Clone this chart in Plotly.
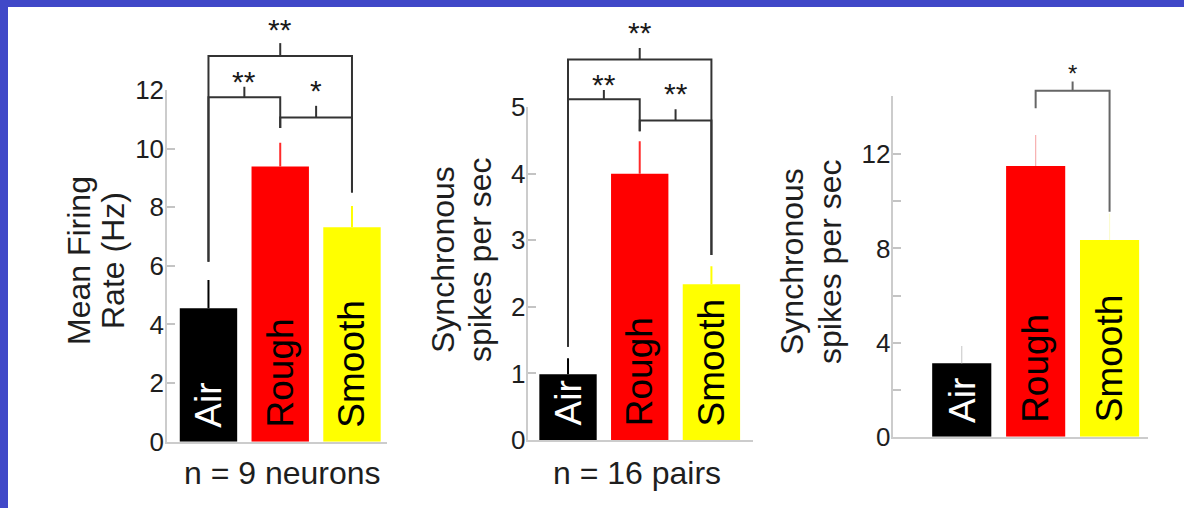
import plotly.graph_objects as go

# ---- data -------------------------------------------------------------
categories = ["Air", "Rough", "Smooth"]
bar_colors = ["#000000", "#ff0000", "#ffff00"]
label_colors = ["#ffffff", "#000000", "#000000"]

# Mean firing rate (Hz), n = 9 neurons
rate_mean = [4.55, 9.39, 7.32]
rate_sem = [0.97, 0.81, 0.72]

# Synchronous spikes per sec, n = 16 pairs
sync_mean = [0.99, 4.00, 2.34]
sync_sem = [0.24, 0.49, 0.27]

# Synchronous spikes per sec (third comparison)
sync2_mean = [3.12, 11.50, 8.36]
sync2_sem = [0.73, 1.32, 1.13]

rate_ticks = [0, 2, 4, 6, 8, 10, 12]
sync_ticks = [0, 1, 2, 3, 4, 5]
sync2_ticks = [0, 2, 4, 6, 8, 10, 12]
sync2_ticktext = ["0", "", "4", "", "8", "", "12"]

# significance brackets: (left bar, right bar, label)
rate_sig = [(0, 2, "**"), (0, 1, "**"), (1, 2, "*")]
sync_sig = [(0, 2, "**"), (0, 1, "**"), (1, 2, "**")]
sync2_sig = [(1, 2, "*")]

FONT = "Liberation Sans, Arial, Helvetica, sans-serif"
W, H = 1184, 508

# ---- panel geometry ---------------------------------------------------
panels = [
    dict(mean=rate_mean, sem=rate_sem, ticks=rate_ticks, ticktext=None,
         sig=rate_sig, yrange=[0, 12], xrange=[-0.578, 2.488],
         xdom=[167 / W, 387 / W], ydom=[(H - 441.7) / H, (H - 90) / H],
         err_colors=["#000000", "#ff2a2a", "#ffff00"], err_w=2,
         bracket_color="#333333",
         # bracket: horizontal level, left leg bottom, right leg bottom, tick top, label y
         bracket_geo=[(13.16, 6.14, 8.50, 13.60, 14.05),
                      (11.75, 6.14, 10.70, 12.11, 12.30),
                      (11.06, 10.70, 8.50, 11.46, 11.98)],
         star_size=[30, 30, 30],
         title=["Mean Firing", "Rate (Hz)"], title_x=[79, 113], title_y=261,
         footer="n = 9 neurons", footer_x=282),
    dict(mean=sync_mean, sem=sync_sem, ticks=sync_ticks, ticktext=None,
         sig=sync_sig, yrange=[0, 5], xrange=[-0.554, 2.58],
         xdom=[528.3 / W, 753 / W], ydom=[(H - 440) / H, (H - 107.3) / H],
         err_colors=["#000000", "#ff2a2a", "#ffff00"], err_w=2,
         bracket_color="#333333",
         bracket_geo=[(5.72, 1.40, 2.78, 5.89, 6.12),
                      (5.12, 1.40, 4.64, 5.26, 5.35),
                      (4.80, 4.64, 2.78, 4.97, 5.21)],
         star_size=[30, 30, 30],
         title=["Synchronous", "spikes per sec"], title_x=[443, 480], title_y=260,
         footer="n = 16 pairs", footer_x=637),
    dict(mean=sync2_mean, sem=sync2_sem, ticks=sync2_ticks, ticktext=sync2_ticktext,
         sig=sync2_sig, yrange=[0, 14.5], xrange=[-0.926, 2.52],
         xdom=[893.3 / W, 1148 / W], ydom=[(H - 436.7) / H, (H - 95.5) / H],
         err_colors=["#cfcfcf", "#f7b0b0", "#fbfbd0"], err_w=1.2,
         bracket_color="#666666",
         bracket_geo=[(14.70, 13.96, 9.56, 15.09, 15.45)],
         star_size=[24],
         title=["Synchronous", "spikes per sec"], title_x=[792, 830], title_y=262,
         footer=None, footer_x=None),
]

fig = go.Figure()
annotations = []
layout_axes = {}
n_panels = len(panels)

for p_i, p in enumerate(panels):
    k = "" if p_i == 0 else str(p_i + 1)
    ko = str(p_i + 1 + n_panels)          # overlay axes for the brackets
    xa, ya = "x" + k, "y" + k
    xo, yo = "x" + ko, "y" + ko
    xpos = list(range(len(categories)))

    # one trace per bar so every error bar takes its bar's colour
    for i, cat in enumerate(categories):
        fig.add_trace(go.Bar(
            x=[xpos[i]], y=[p["mean"][i]], width=0.8, name=cat,
            marker=dict(color=bar_colors[i], line=dict(width=0)),
            error_y=dict(type="data", array=[p["sem"][i]], arrayminus=[0],
                         symmetric=False, color=p["err_colors"][i],
                         thickness=p["err_w"], width=0),
            xaxis=xa, yaxis=ya, showlegend=False, hoverinfo="skip",
        ))
        annotations.append(dict(
            x=xpos[i], y=0, xref=xa, yref=ya, text=cat, textangle=-90,
            showarrow=False, xanchor="center", yanchor="bottom", yshift=12,
            font=dict(family=FONT, size=37, color=label_colors[i]),
        ))

    # overlay axes: same units per pixel, taller domain so brackets fit above
    dom0, dom1 = p["ydom"]
    px_per_unit = (dom1 - dom0) * H / p["yrange"][1]
    full_top = (1 - dom0) * H / px_per_unit

    bx, by = [], []
    for (a, b, lab), (hy, lbot, rbot, ttop, ly), ssz in zip(p["sig"], p["bracket_geo"], p["star_size"]):
        bx += [a, a, b, b, None, (a + b) / 2, (a + b) / 2, None]
        by += [lbot, hy, hy, rbot, None, hy, ttop, None]
        annotations.append(dict(
            x=(a + b) / 2, y=ly, xref=xo, yref=yo, text=lab, showarrow=False,
            xanchor="center", yanchor="middle",
            font=dict(family=FONT, size=ssz, color="#1a1a1a"),
        ))
    fig.add_trace(go.Scatter(
        x=bx, y=by, mode="lines",
        line=dict(color=p["bracket_color"], width=2),
        xaxis=xo, yaxis=yo, showlegend=False, hoverinfo="skip",
    ))

    layout_axes["xaxis" + k] = dict(
        domain=p["xdom"], range=p["xrange"], anchor=ya, automargin=False,
        showgrid=False, zeroline=False, showticklabels=False, ticks="",
        showline=True, linecolor="#cccccc", linewidth=1.5,
    )
    ytick = dict(tickvals=p["ticks"])
    if p["ticktext"] is not None:
        ytick["ticktext"] = p["ticktext"]
    layout_axes["yaxis" + k] = dict(
        domain=p["ydom"], range=p["yrange"], anchor=xa, automargin=False,
        showgrid=False, zeroline=False,
        showline=True, linecolor="#cccccc", linewidth=1.5,
        ticks="inside", ticklen=8, tickwidth=1.5, tickcolor="#c4c4c4",
        tickfont=dict(family=FONT, size=26, color="#1e1e1e"),
        ticklabelstandoff=-4,
        **ytick,
    )
    layout_axes["xaxis" + ko] = dict(
        domain=p["xdom"], range=p["xrange"], anchor=yo, visible=False,
        automargin=False, showgrid=False, zeroline=False,
    )
    layout_axes["yaxis" + ko] = dict(
        domain=[dom0, 1.0], range=[0, full_top], anchor=xo, visible=False,
        automargin=False, showgrid=False, zeroline=False,
    )

    # axis titles (two stacked rotated lines)
    for line_txt, tx in zip(p["title"], p["title_x"]):
        annotations.append(dict(
            x=tx / W, y=(H - p["title_y"]) / H, xref="paper", yref="paper",
            text=line_txt, textangle=-90, showarrow=False,
            xanchor="center", yanchor="middle",
            font=dict(family=FONT, size=32, color="#1e1e1e"),
        ))
    if p["footer"]:
        annotations.append(dict(
            x=p["footer_x"] / W, y=(H - 473) / H, xref="paper", yref="paper",
            text=p["footer"], showarrow=False, xanchor="center", yanchor="middle",
            font=dict(family=FONT, size=32, color="#1e1e1e"),
        ))

# blue frame along the top and left edges
shapes = [
    dict(type="rect", xref="paper", yref="paper", x0=0, x1=1,
         y0=(H - 7) / H, y1=1, fillcolor="#4048c8", line=dict(width=0), layer="above"),
    dict(type="rect", xref="paper", yref="paper", x0=0, x1=8 / W,
         y0=0, y1=1, fillcolor="#4048c8", line=dict(width=0), layer="above"),
]

fig.update_layout(
    width=W, height=H, margin=dict(l=0, r=0, t=0, b=0, pad=0),
    paper_bgcolor="#ffffff", plot_bgcolor="rgba(0,0,0,0)",
    barmode="overlay", annotations=annotations, shapes=shapes,
    **layout_axes,
)

fig.write_html("out.html")
